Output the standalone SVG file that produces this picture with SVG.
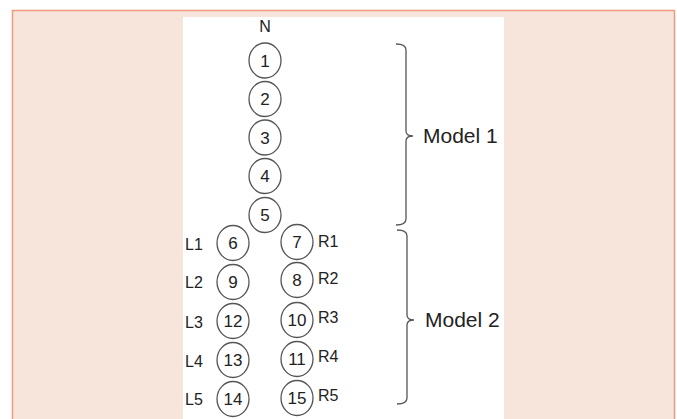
<svg xmlns="http://www.w3.org/2000/svg" width="677" height="419" viewBox="0 0 677 419">
<style>
.n ellipse{fill:#fff;stroke:#555;stroke-width:1.3}
.n text,.lbl{font-family:"Liberation Sans",Arial,sans-serif;fill:#222}
.n text{font-size:17px;text-anchor:middle}
.lbl{font-size:16px}
.big{font-size:21px}
.br{fill:none;stroke:#555;stroke-width:1.3}
</style>
<rect x="0" y="0" width="677" height="419" fill="#fff"/>
<rect x="12.5" y="10.5" width="662" height="420" fill="#F7E4DA" stroke="#EE9A80" stroke-width="1.5"/>
<rect x="183" y="17" width="321" height="410" fill="#fff"/>
<text class="lbl" x="265" y="32" text-anchor="middle" font-size="15">N</text>
<g id="n1" class="n"><ellipse cx="265" cy="60.5" rx="16" ry="17.5"/><text x="265" y="66.5">1</text></g>
<g id="n2" class="n"><ellipse cx="265" cy="99" rx="16" ry="17.5"/><text x="265" y="105">2</text></g>
<g id="n3" class="n"><ellipse cx="265" cy="137.5" rx="16" ry="17.5"/><text x="265" y="143.5">3</text></g>
<g id="n4" class="n"><ellipse cx="265" cy="176" rx="16" ry="17.5"/><text x="265" y="182">4</text></g>
<g id="n5" class="n"><ellipse cx="265" cy="215" rx="16" ry="17.5"/><text x="265" y="221">5</text></g>
<g id="n6" class="n"><ellipse cx="233" cy="243" rx="16" ry="17.5"/><text x="233" y="249">6</text></g>
<g id="n7" class="n"><ellipse cx="297" cy="242" rx="16" ry="17.5"/><text x="297" y="248">7</text></g>
<g id="n9" class="n"><ellipse cx="233" cy="282" rx="16" ry="17.5"/><text x="233" y="288">9</text></g>
<g id="n8" class="n"><ellipse cx="297" cy="280" rx="16" ry="17.5"/><text x="297" y="286">8</text></g>
<g id="n12" class="n"><ellipse cx="233" cy="321" rx="16" ry="17.5"/><text x="233" y="327">12</text></g>
<g id="n10" class="n"><ellipse cx="297" cy="320" rx="16" ry="17.5"/><text x="297" y="326">10</text></g>
<g id="n13" class="n"><ellipse cx="233" cy="360" rx="16" ry="17.5"/><text x="233" y="366">13</text></g>
<g id="n11" class="n"><ellipse cx="297" cy="359" rx="16" ry="17.5"/><text x="297" y="365">11</text></g>
<g id="n14" class="n"><ellipse cx="233" cy="399" rx="16" ry="17.5"/><text x="233" y="405">14</text></g>
<g id="n15" class="n"><ellipse cx="297" cy="398" rx="16" ry="17.5"/><text x="297" y="404">15</text></g>
<g id="labels">
<text class="lbl" x="185" y="250">L1</text>
<text class="lbl" x="185" y="288">L2</text>
<text class="lbl" x="185" y="328">L3</text>
<text class="lbl" x="185" y="367">L4</text>
<text class="lbl" x="185" y="405">L5</text>
<text class="lbl" x="318" y="247">R1</text>
<text class="lbl" x="318" y="284">R2</text>
<text class="lbl" x="318" y="323">R3</text>
<text class="lbl" x="318" y="362">R4</text>
<text class="lbl" x="318" y="401">R5</text>
<text class="lbl big" x="423" y="143">Model 1</text>
<text class="lbl big" x="425" y="327">Model 2</text>
</g>
<g id="connectors">
<path class="br" d="M396,44 Q406,44 406,50 L406,131 Q406,136 413,136 Q406,136 406,141 L406,219 Q406,225 396,225"/>
<path class="br" d="M397,230 Q407,230 407,236 L407,315 Q407,320 414,320 Q407,320 407,325 L407,398 Q407,404 397,404"/>
</g>
</svg>
